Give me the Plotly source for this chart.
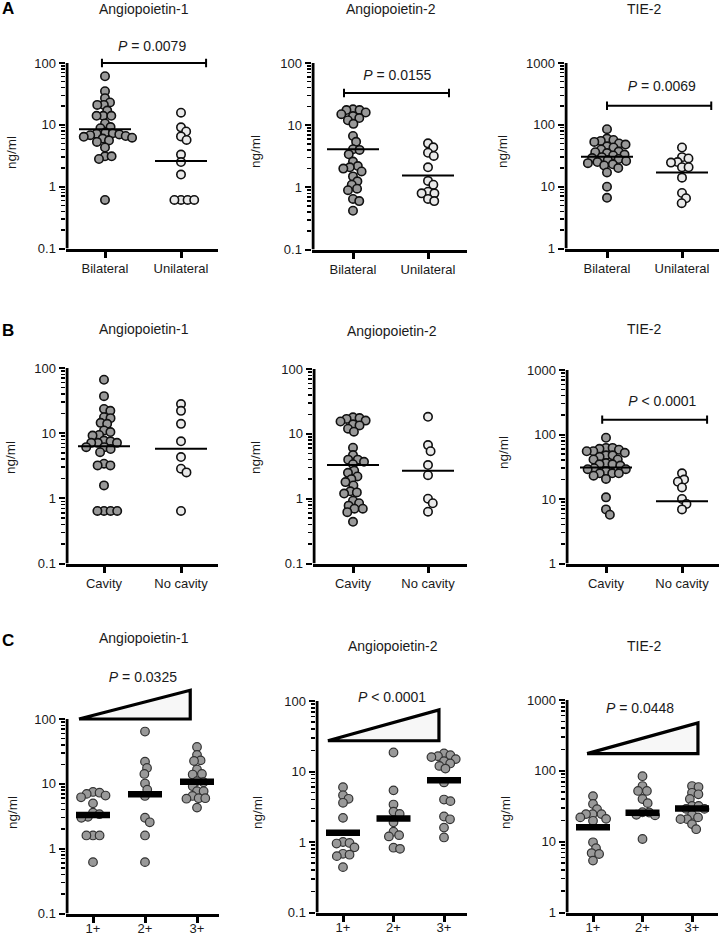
import numpy as np
import plotly.graph_objects as go

W, H = 721, 936
FONT = "Arial, 'Liberation Sans', Helvetica, sans-serif"

# ------------------------------------------------------------------ data
titles = ["Angiopoietin-1", "Angiopoietin-2", "TIE-2"]
row_a_groups = ["Bilateral", "Unilateral"]
row_b_groups = ["Cavity", "No cavity"]
row_c_groups = ["1+", "2+", "3+"]

a1_bilateral = [61, 35, 27, 23, 21, 21, 17, 14, 14, 14, 10.5, 9.2, 8.8, 7.5, 7.3, 7.2, 7.0,
                6.8, 6.6, 6.4, 6.2, 6.0, 5.6, 5.3, 4.3, 3.1, 3.1, 2.8, 0.61]
a1_unilateral = [15.7, 9.1, 7.8, 6.5, 5.7, 3.3, 2.5, 1.57, 0.61, 0.61, 0.61, 0.61]
a2_bilateral = [18, 17.5, 17.5, 16, 15, 14, 13, 12, 10.5, 6.7, 5.4, 4.1, 4.0, 3.4, 2.6, 2.2,
                2.1, 2.0, 1.8, 1.5, 1.25, 1.1, 0.95, 0.9, 0.65, 0.6, 0.42]
a2_unilateral = [5.1, 4.4, 3.6, 3.2, 2.1, 1.27, 1.1, 0.85, 0.8, 0.8, 0.65, 0.6]
a3_bilateral = [85, 60, 57, 55, 53, 50, 48, 45, 43, 40, 37, 36, 35, 33, 32, 30, 29, 28, 27,
                26, 25, 24, 23, 22, 20, 17, 10, 6.6]
a3_unilateral = [43, 30, 28.6, 25, 24.5, 20.6, 20.6, 14, 7.9, 6.5, 5.4]

b1_cavity = [66, 37, 23.5, 22, 17.6, 17, 14.4, 13.9, 11, 10.4, 9.4, 9.2, 7.7, 7.5, 7.1, 7.1,
             7.1, 6.1, 6.1, 5.7, 5.1, 3.4, 3.2, 3.2, 1.58, 0.64, 0.64, 0.64, 0.64]
b1_nocavity = [28, 22, 13.9, 7.5, 4.3, 2.85, 2.5, 0.64]
b2_cavity = [18, 17.5, 17, 16, 15.5, 14, 13.5, 12, 10.8, 6.1, 4.7, 4.0, 4.0, 3.7, 3.4, 2.7,
             2.5, 2.2, 2.0, 1.8, 1.6, 1.3, 1.25, 1.2, 0.93, 0.85, 0.78, 0.7, 0.7, 0.62, 0.44]
b2_nocavity = [18.3, 6.7, 5.4, 3.3, 2.3, 1.0, 0.85, 0.63]
b3_cavity = [89, 62, 62, 60, 58, 55, 55, 52, 47.5, 47.5, 45, 41, 41, 36, 34.5, 34.5, 33, 30,
             29, 29, 27, 25, 25, 25, 23, 20.5, 10.6, 6.9, 5.7]
b3_nocavity = [25, 20, 18.5, 15.1, 10, 8.4, 6.9]

c1_1plus = [7.5, 7.3, 7.0, 6.6, 6.2, 5.0, 3.6, 3.4, 3.1, 3.0, 1.6, 1.6, 1.6, 0.62]
c1_2plus = [64, 22, 17.6, 14.2, 10.1, 8.1, 6.5, 3.0, 2.55, 1.6, 0.62]
c1_3plus = [37, 28, 23, 22.5, 16.6, 14.2, 13.9, 11, 10.6, 9.2, 7.7, 7.7, 6.5, 6.0, 6.0, 5.9, 4.3]
c2_1plus = [6.0, 4.6, 4.1, 3.6, 2.2, 1.0, 0.97, 0.95, 0.84, 0.68, 0.66, 0.63, 0.44]
c2_2plus = [18.6, 5.4, 3.4, 2.7, 2.5, 1.9, 1.4, 1.25, 1.2, 0.83, 0.8]
c2_3plus = [18, 17, 16.5, 16, 15, 14, 13, 12, 11, 7.0, 4.0, 3.8, 2.3, 2.1, 1.6, 1.16]
c3_1plus = [44, 34, 28.7, 24.5, 24.5, 24.5, 22, 21, 19.7, 9.8, 8.1, 6.9, 6.7, 5.4]
c3_2plus = [84, 61, 52, 52, 40, 35, 26, 25.8, 24, 23.5, 10.9]
c3_3plus = [61, 59, 49, 46.6, 40, 32, 32, 29, 29, 24, 22, 20.8, 20.8, 17.7, 15]

medians_a = [[8.5, 2.6], [4.1, 1.55], [30.5, 17]]
medians_b = [[6.3, 5.75], [3.3, 2.7], [30.7, 9.2]]
medians_c = [[3.3, 6.9, 10.8], [1.35, 2.15, 7.5], [16, 25.5, 29.5]]

p_texts = {"A1": "= 0.0079", "A2": "= 0.0155", "A3": "= 0.0069", "B3": "< 0.0001",
           "C1": "= 0.0325", "C2": "< 0.0001", "C3": "= 0.0448"}

# ------------------------------------------------------------------ layout config
GRAY, LIGHT, EDGE = "#999999", "#e9e9e9", "#111111"

panels = [
    dict(key="A1", title=0, axis_x=67, right=218, ytop=63, ybot=250, cats=[105, 181],
         ymin=0.1, ymax=100, groups=row_a_groups, data=[a1_bilateral, a1_unilateral],
         fills=[GRAY, LIGHT], med=medians_a[0], title_y=9, yt=(12, 153)),
    dict(key="A2", title=1, axis_x=313, right=467, ytop=63, ybot=251, cats=[353, 428],
         ymin=0.1, ymax=100, groups=row_a_groups, data=[a2_bilateral, a2_unilateral],
         fills=[GRAY, LIGHT], med=medians_a[1], title_y=9, yt=(256, 152)),
    dict(key="A3", title=2, axis_x=566, right=719, ytop=63, ybot=250, cats=[607, 682],
         ymin=1, ymax=1000, groups=row_a_groups, data=[a3_bilateral, a3_unilateral],
         fills=[GRAY, LIGHT], med=medians_a[2], title_y=9, yt=(503, 152)),
    dict(key="B1", title=0, axis_x=67, right=218, ytop=368, ybot=565, cats=[104, 181],
         ymin=0.1, ymax=100, groups=row_b_groups, data=[b1_cavity, b1_nocavity],
         fills=[GRAY, LIGHT], med=medians_b[0], title_y=329, yt=(10, 458)),
    dict(key="B2", title=1, axis_x=314, right=467, ytop=369, ybot=565, cats=[353, 428],
         ymin=0.1, ymax=100, groups=row_b_groups, data=[b2_cavity, b2_nocavity],
         fills=[GRAY, LIGHT], med=medians_b[1], title_y=331, yt=(255, 458)),
    dict(key="B3", title=2, axis_x=567, right=719, ytop=370, ybot=565, cats=[606, 682],
         ymin=1, ymax=1000, groups=row_b_groups, data=[b3_cavity, b3_nocavity],
         fills=[GRAY, LIGHT], med=medians_b[2], title_y=329, yt=(503, 453)),
    dict(key="C1", title=0, axis_x=67, right=219, ytop=719, ybot=915, cats=[93, 145, 197],
         ymin=0.1, ymax=100, groups=row_c_groups, data=[c1_1plus, c1_2plus, c1_3plus],
         fills=[GRAY] * 3, med=medians_c[0], title_y=638, yt=(12, 813)),
    dict(key="C2", title=1, axis_x=317, right=467, ytop=701, ybot=914, cats=[343, 393, 444],
         ymin=0.1, ymax=100, groups=row_c_groups, data=[c2_1plus, c2_2plus, c2_3plus],
         fills=[GRAY] * 3, med=medians_c[1], title_y=646, yt=(257, 813)),
    dict(key="C3", title=2, axis_x=567, right=718, ytop=700, ybot=914, cats=[593, 642, 692],
         ymin=1, ymax=1000, groups=row_c_groups, data=[c3_1plus, c3_2plus, c3_3plus],
         fills=[GRAY] * 3, med=medians_c[2], title_y=646, yt=(505, 813)),
]

# annotation geometry (x in category units, y in data units)
sig_bars = {
    "A1": dict(x0=-0.04, x1=1.33, y=100, tx=0.62, ty=175),
    "A2": dict(x0=-0.12, x1=1.28, y=33, tx=0.59, ty=60),
    "A3": dict(x0=0.0, x1=1.39, y=204, tx=0.73, ty=398),
    "B3": dict(x0=-0.05, x1=1.33, y=170, tx=0.74, ty=310),
}
wedges = {
    "C1": dict(x0=-0.27, x1=1.87, ylo=100, yhi=278, tx=0.96, ty=425),
    "C2": dict(x0=-0.30, x1=1.90, ylo=27.3, yhi=74.7, tx=0.97, ty=107),
    "C3": dict(x0=-0.12, x1=2.12, ylo=175, yhi=475, tx=0.95, ty=724),
}
panel_letters = [("A", 9), ("B", 330), ("C", 640)]


def swarm(values, px_per_dec, diam):
    """Simple beeswarm: horizontal pixel offsets so markers don't overlap too much."""
    ys = np.log10(np.asarray(values, float)) * px_per_dec
    order = np.argsort(-ys, kind="stable")
    placed = []
    xs = np.zeros(len(ys))
    for idx in order:
        y = ys[idx]
        cands = [0.0]
        for px, py in placed:
            dy = abs(py - y)
            if dy < diam:
                dx = np.sqrt(diam ** 2 - dy ** 2)
                cands += [px + dx, px - dx]
        cands.sort(key=lambda c: (round(abs(c), 6), -c))
        for c in cands:
            if all((c - px) ** 2 + (y - py) ** 2 >= diam ** 2 - 1e-6 for px, py in placed):
                xs[idx] = c
                break
        placed.append((xs[idx], y))
    return xs


fig = go.Figure()
layout = dict(template="none", width=W, height=H, margin=dict(l=0, r=0, t=0, b=0, pad=0),
              paper_bgcolor="white", plot_bgcolor="white", showlegend=False,
              font=dict(family=FONT, size=13, color="#1a1a1a"))
annotations = []

EXT = 54  # px of plotting room above the top decade

for i, p in enumerate(panels, start=1):
    xn = "x" if i == 1 else f"x{i}"
    yn = "y" if i == 1 else f"y{i}"
    xk = "xaxis" if i == 1 else f"xaxis{i}"
    yk = "yaxis" if i == 1 else f"yaxis{i}"
    cats = p["cats"]
    ncat = len(cats)
    u = (cats[-1] - cats[0]) / (ncat - 1)
    L = p["axis_x"] - 1.5
    R = p["right"]
    B = p["ybot"] - 1.5
    T = p["ytop"] - EXT
    lo, hi = np.log10(p["ymin"]), np.log10(p["ymax"])
    k = (B - p["ytop"]) / (hi - lo)  # px per decade
    yr1 = hi + EXT / k
    xr = [(L - cats[0]) / u, (R - cats[0]) / u]

    row_c = p["key"].startswith("C")
    msize = 8.6 if row_c else 8.4
    mline = dict(color="#333333", width=1.2) if row_c else dict(color=EDGE, width=1.6)

    for j, vals in enumerate(p["data"]):
        offs = swarm(vals, k, 6.6) / u
        fig.add_trace(go.Scatter(
            x=j + offs, y=vals, mode="markers", xaxis=xn, yaxis=yn,
            marker=dict(size=msize, color=p["fills"][j], line=mline),
            hoverinfo="y"))

    # medians
    for j, m in enumerate(p["med"]):
        if row_c:
            hw, lw = 17 / u, 6.5
        else:
            hw, lw = 26 / u, 2
        fig.add_trace(go.Scatter(x=[j - hw, j + hw], y=[m, m], mode="lines",
                                 xaxis=xn, yaxis=yn, line=dict(color="black", width=lw),
                                 hoverinfo="skip"))

    # y axis line (drawn from the bottom to the top decade)
    xline = xr[0] + 1.5 / u
    fig.add_trace(go.Scatter(x=[xline, xline], y=[p["ymin"], p["ymax"]], mode="lines",
                             xaxis=xn, yaxis=yn, line=dict(color="black", width=3),
                             hoverinfo="skip"))

    # significance bars
    key = p["key"]
    if key in sig_bars:
        s = sig_bars[key]
        cap = 10 ** (4.2 / k)
        fig.add_trace(go.Scatter(
            x=[s["x0"], s["x0"], None, s["x0"], s["x1"], None, s["x1"], s["x1"]],
            y=[s["y"] / cap, s["y"] * cap, None, s["y"], s["y"], None, s["y"] / cap, s["y"] * cap],
            mode="lines", xaxis=xn, yaxis=yn, line=dict(color="black", width=2),
            hoverinfo="skip"))
    if key in wedges:
        s = wedges[key]
        fig.add_trace(go.Scatter(
            x=[s["x0"], s["x1"], s["x1"], s["x0"]], y=[s["ylo"], s["yhi"], s["ylo"], s["ylo"]],
            mode="lines", fill="toself", fillcolor="#f7f7f7", xaxis=xn, yaxis=yn,
            line=dict(color="black", width=3.2), hoverinfo="skip"))
    if key in p_texts:
        s = sig_bars.get(key) or wedges.get(key)
        fig.add_trace(go.Scatter(
            x=[s["tx"]], y=[s["ty"]], mode="text", xaxis=xn, yaxis=yn,
            text=[f"<i>P</i> {p_texts[key]}"], textposition="middle center",
            textfont=dict(size=14, color="#1a1a1a", family=FONT), cliponaxis=False,
            hoverinfo="skip"))

    decades = [10 ** e for e in range(int(round(lo)), int(round(hi)) + 1)]
    labels = [("%g" % d) for d in decades]
    minors = [m * 10 ** e for e in range(int(round(lo)), int(round(hi))) for m in range(2, 10)]

    layout[xk] = dict(domain=[L / W, R / W], range=xr, anchor=yn, showline=True,
                      linewidth=3, linecolor="black", showgrid=False, zeroline=False,
                      tickvals=list(range(ncat)), ticktext=p["groups"], ticks="outside",
                      ticklen=6, tickwidth=3, tickcolor="black", automargin=False,
                      ticklabelstandoff=(-5 if row_c else 0),
                      tickfont=dict(size=13, color="#1a1a1a", family=FONT), fixedrange=True)
    layout[yk] = dict(domain=[1 - B / H, 1 - T / H], range=[lo, yr1], type="log", anchor=xn,
                      showline=False, showgrid=False, zeroline=False, automargin=False,
                      tickvals=decades, ticktext=labels, ticks="outside", ticklen=6,
                      tickwidth=2, tickcolor="black",
                      tickfont=dict(size=13, color="#1a1a1a", family=FONT),
                      minor=dict(tickvals=minors, ticks="outside", ticklen=4, tickwidth=1.5,
                                 tickcolor="black", showgrid=False),
                      fixedrange=True)

    # panel title
    annotations.append(dict(text=titles[p["title"]], xref="paper", yref="paper",
                            x=((p["axis_x"] + R) / 2 + 1) / W, y=1 - p["title_y"] / H,
                            xanchor="center", yanchor="middle", showarrow=False,
                            font=dict(size=14, family=FONT, color="#1a1a1a")))
    # y axis title
    annotations.append(dict(text="ng/ml", xref="paper", yref="paper",
                            x=p["yt"][0] / W, y=1 - p["yt"][1] / H, textangle=-90,
                            xanchor="center", yanchor="middle", showarrow=False,
                            font=dict(size=13.5, family=FONT, color="#1a1a1a")))

for letter, ypx in panel_letters:
    annotations.append(dict(text=f"<b>{letter}</b>", xref="paper", yref="paper",
                            x=8 / W, y=1 - ypx / H, xanchor="center", yanchor="middle",
                            showarrow=False, font=dict(size=17, family=FONT, color="black")))

layout["annotations"] = annotations
fig.update_layout(**layout)
fig.write_html("out.html", config={"displayModeBar": False, "staticPlot": True},
               post_script="document.body.style.margin='0';document.body.style.overflow='hidden';")
